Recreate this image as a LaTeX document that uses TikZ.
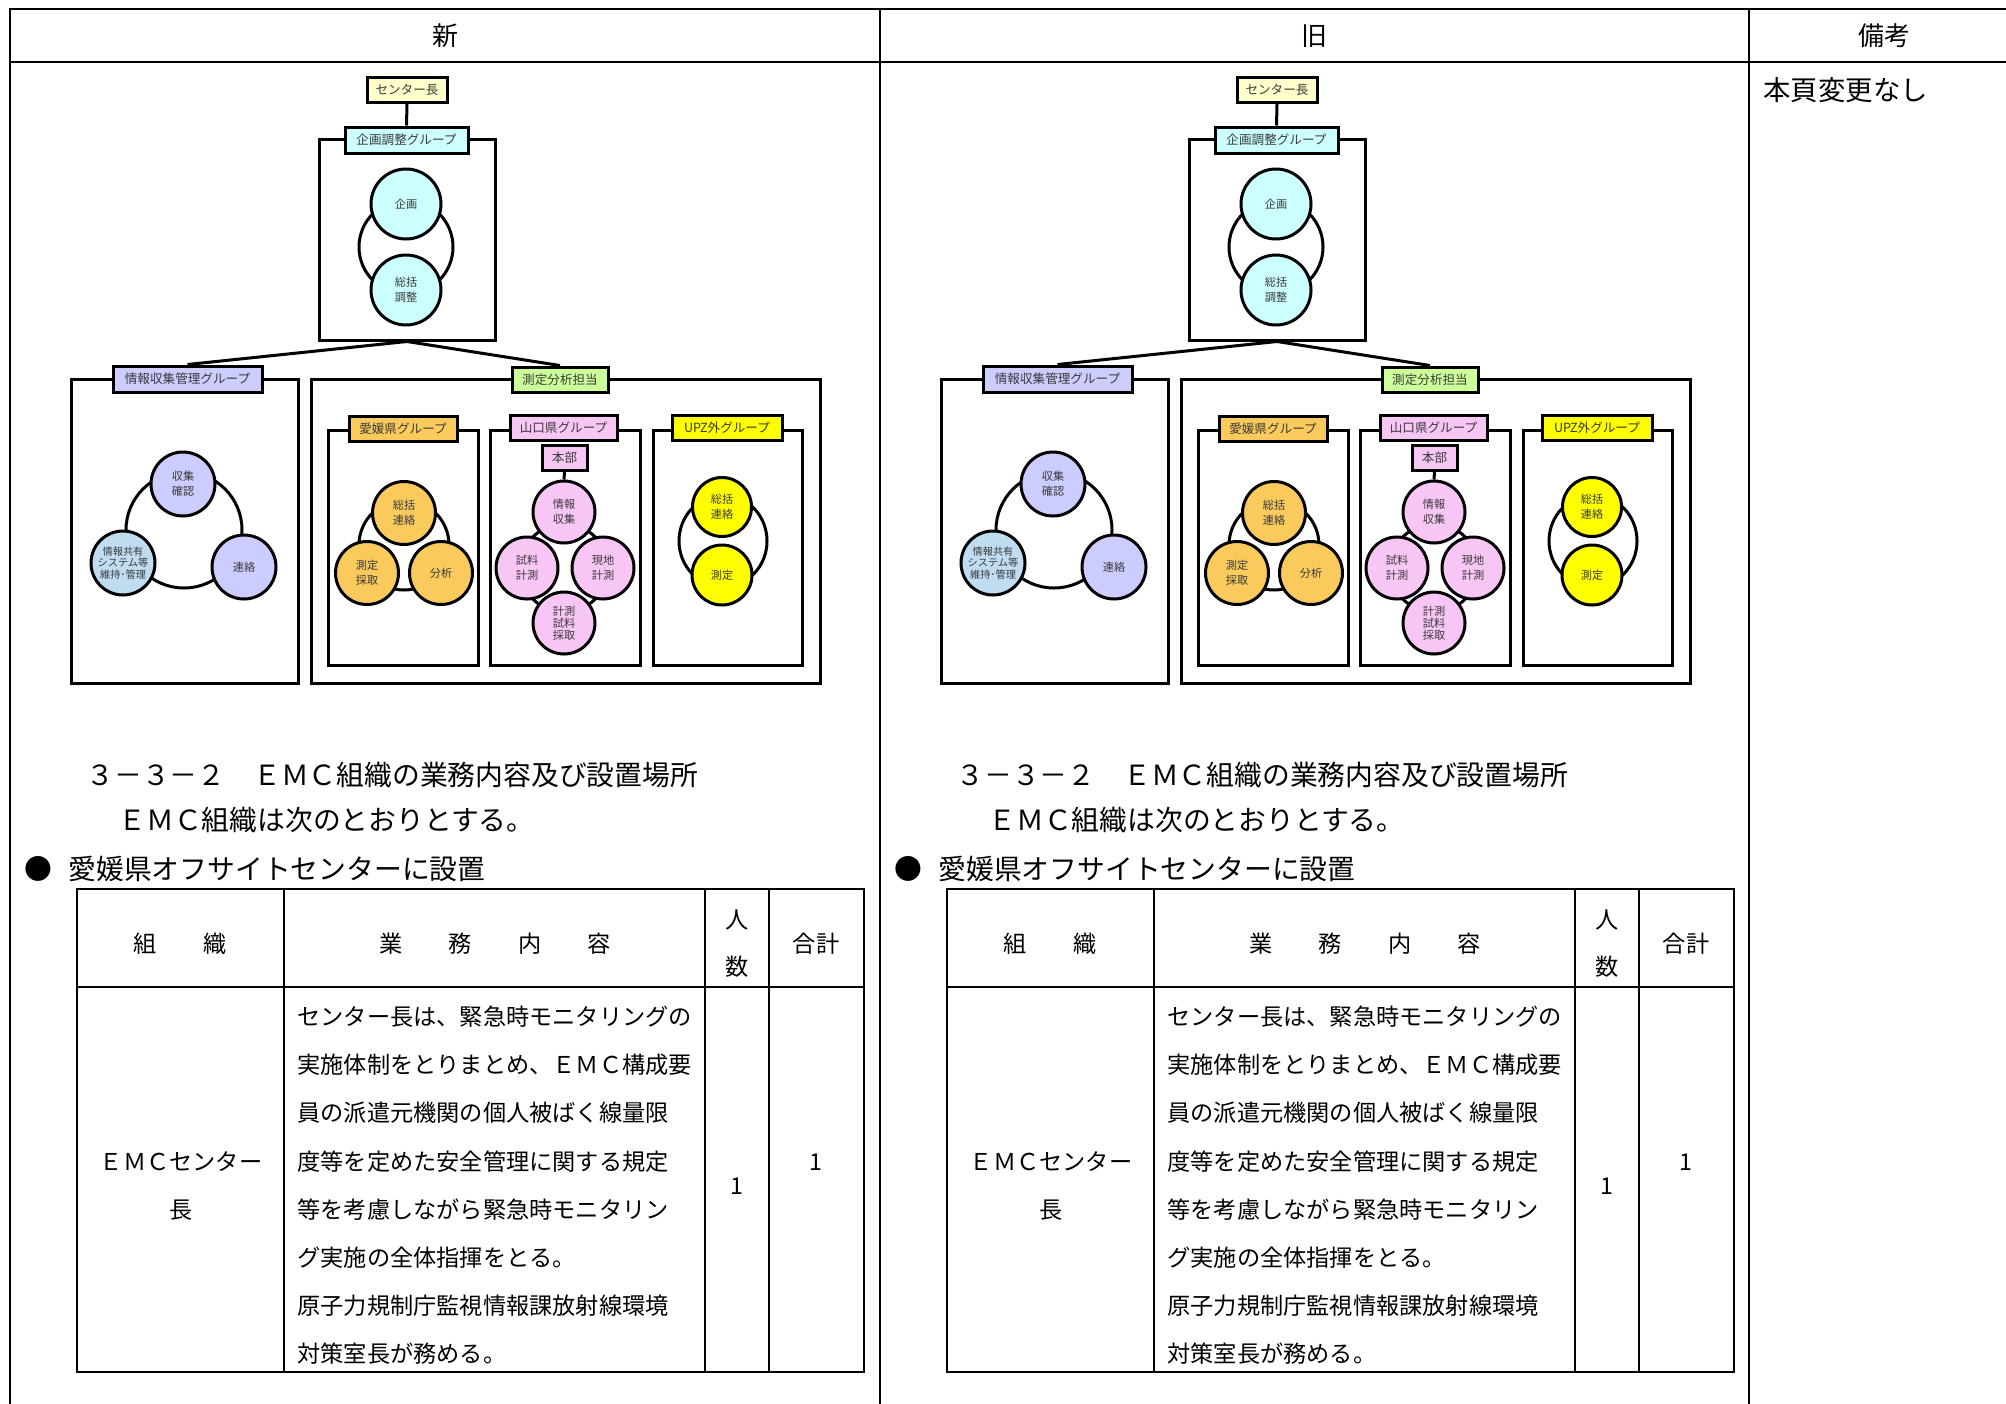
\documentclass[tikz,border=0pt]{standalone}
\usepackage{fontspec}
\setmainfont{Noto Sans CJK JP}
\definecolor{yelL}{HTML}{FFFFCC}
\definecolor{cyanL}{HTML}{CCFFFF}
\definecolor{lavL}{HTML}{CCCCFF}
\definecolor{blueL}{HTML}{BFDCF0}
\definecolor{grnL}{HTML}{CCFF99}
\definecolor{orgL}{HTML}{FACB5C}
\definecolor{pinkL}{HTML}{F8C6F4}
\definecolor{yelB}{HTML}{FFFF00}
\definecolor{txtgray}{HTML}{3A3A3A}
\tikzset{
  cline/.style={line width=1.5pt},
  ring/.style={line width=1.5pt},
  gframe/.style={draw, line width=1.5pt, inner sep=0pt, rectangle},
  glabel/.style={draw, line width=1.5pt, inner sep=0pt, rectangle, minimum height=12.5pt,
    font=\fontsize{6.3}{7}\selectfont, text=txtgray},
  org/.style={circle, draw, line width=1.5pt, inner sep=0pt, align=center,
    font=\fontsize{5.6}{7.5}\selectfont, text=txtgray},
  body/.style={inner sep=0pt, font=\fontsize{13.9}{16}\selectfont},
  tfont/.style={inner sep=0pt, font=\fontsize{11.6}{13}\selectfont},
  hfont/.style={inner sep=0pt, font=\fontsize{13}{15}\selectfont},
  pageline/.style={line width=1pt},
  tblouter/.style={line width=1.3pt},
  tblinner/.style={line width=1pt},
}
\newcommand{\panelcontent}{%
  % ---- frames ----
  \node[gframe, minimum width=88pt, minimum height=100.5pt] (kframe) at (407,239.5) {};
  \node[gframe, minimum width=113.5pt, minimum height=152pt] (jframe) at (184.5,531) {};
  \node[gframe, minimum width=254.5pt, minimum height=152pt] (sframe) at (565.5,531) {};
  \node[gframe, minimum width=75pt, minimum height=117.5pt] (eframe) at (403,547.5) {};
  \node[gframe, minimum width=75pt, minimum height=117.5pt] (yframe) at (565,547.5) {};
  \node[gframe, minimum width=74.5pt, minimum height=117.5pt] (uframe) at (727.5,547.5) {};
  % ---- rings ----
  \draw[ring] (406,247) circle [radius=23.5pt];
  \draw[ring] (184,530) circle [radius=29pt];
  \draw[ring] (404,545) circle [radius=22.5pt];
  \draw[ring] (564,568) circle [radius=22pt];
  \draw[ring] (723,541) ellipse [x radius=22pt, y radius=23pt];
  % ---- circles ----
  \node[org, fill=cyanL, minimum size=35pt] (kc1) at (406,204) {企画};
  \node[org, fill=cyanL, minimum size=35pt] (kc2) at (406,290) {総括\\調整};
  \node[org, fill=lavL, minimum size=32pt] (jc1) at (183,484) {収集\\確認};
  \node[org, fill=blueL, minimum size=32pt, font=\fontsize{5.1}{5.8}\selectfont] (jc2) at (123,563) {情報共有\\システム等\\維持･管理};
  \node[org, fill=lavL, minimum size=32pt] (jc3) at (244,567) {連絡};
  \node[org, fill=orgL, minimum size=31.5pt] (ec1) at (404,513) {総括\\連絡};
  \node[org, fill=orgL, minimum size=31.5pt] (ec2) at (367,573) {測定\\採取};
  \node[org, fill=orgL, minimum size=31.5pt] (ec3) at (441,573) {分析};
  \node[org, fill=pinkL, minimum size=31pt] (yc1) at (564,512) {情報\\収集};
  \node[org, fill=pinkL, minimum size=31pt] (yc2) at (527,568) {試料\\計測};
  \node[org, fill=pinkL, minimum size=31pt] (yc3) at (603,568) {現地\\計測};
  \node[org, fill=pinkL, minimum size=31pt, font=\fontsize{5.6}{6}\selectfont] (yc4) at (564,623) {計測\\試料\\採取};
  \node[org, fill=yelB, minimum size=29.5pt] (uc1) at (722,507) {総括\\連絡};
  \node[org, fill=yelB, minimum size=30pt] (uc2) at (722,575) {測定};
  % ---- labels ----
  \node[glabel, fill=yelL, minimum width=40pt] (chief) at (407,90) {センター長};
  \node[glabel, fill=cyanL, minimum width=61.5pt, minimum height=13pt] (kgl) at (406.5,140) {企画調整グループ};
  \node[glabel, fill=lavL, minimum width=74.5pt, minimum height=13pt] (jgl) at (187.5,379) {情報収集管理グループ};
  \node[glabel, fill=grnL, minimum width=48pt] (sgl) at (560,379.5) {測定分析担当};
  \node[glabel, fill=orgL, minimum width=54pt] (egl) at (403,429) {愛媛県グループ};
  \node[glabel, fill=pinkL, minimum width=53.5pt] (ygl) at (563.5,428) {山口県グループ};
  \node[glabel, fill=yelB, minimum width=55pt] (ugl) at (727,428) {UPZ外グループ};
  \node[glabel, fill=pinkL, minimum width=22.5pt] (honbu) at (564.5,457.5) {本部};
  % ---- connectors ----
  \draw[cline] (chief.south) -- (kgl.north);
  \draw[cline] (kframe.south) -- (jgl.north);
  \draw[cline] (kframe.south) -- (sgl.north);
  \draw[cline] (honbu.south) -- (yc1.north);
  % ---- text ----
  \node[body, anchor=west] (h332) at (86,775) {３－３－２　ＥＭＣ組織の業務内容及び設置場所};
  \node[body, anchor=west] (emc) at (118,820) {ＥＭＣ組織は次のとおりとする。};
  \node[body] (bullet) at (38,869) {●};
  \node[body, anchor=west] (ehime) at (68,869) {愛媛県オフサイトセンターに設置};
  % ---- table ----
  \draw[tblinner] (77,987) -- (864,987);
  \draw[tblinner] (284,889) -- (284,1372);
  \draw[tblinner] (705,889) -- (705,1372);
  \draw[tblinner] (769,889) -- (769,1372);
  \draw[tblouter] (77,889) rectangle (864,1372);
  \node[tfont] (th1) at (180,944) {組　　織};
  \node[tfont] (th2) at (495,944) {業　　務　　内　　容};
  \node[tfont] (th3a) at (737,920) {人};
  \node[tfont] (th3b) at (737,967) {数};
  \node[tfont] (th4) at (816,944) {合計};
  \node[tfont] (org1) at (181,1162) {ＥＭＣセンター};
  \node[tfont] (org2) at (181,1210) {長};
  \node[tfont] (num1) at (737,1186) {1};
  \node[tfont] (sum1) at (816,1162) {1};
  \foreach \t [count=\i] in {センター長は、緊急時モニタリングの,実施体制をとりまとめ、ＥＭＣ構成要,員の派遣元機関の個人被ばく線量限,度等を定めた安全管理に関する規定,等を考慮しながら緊急時モニタリン,グ実施の全体指揮をとる。,原子力規制庁監視情報課放射線環境,対策室長が務める。}
    {\node[tfont, anchor=west] (body\i) at ({297},{1017+48.1*(\i-1)}) {\t};}
}
\begin{document}
\begin{tikzpicture}[x=0.5pt, y=-0.5pt]
  \useasboundingbox[fill=white] (0,0) rectangle (2006,1403);
  % page frame
  \draw[pageline] (10,1410) -- (10,9) -- (2020,9);
  \draw[pageline] (10,62) -- (2020,62);
  \draw[pageline] (880,9) -- (880,1410);
  \draw[pageline] (1749,9) -- (1749,1410);
  \node[hfont] (hnew) at (445,36) {新};
  \node[hfont] (hold) at (1314,36) {旧};
  \node[hfont] (hnote) at (1884,36) {備考};
  \node[hfont, anchor=west, font=\fontsize{13.7}{15}\selectfont] (note) at (1763,90) {本頁変更なし};
  \begin{scope}[name prefix=L-]
    \panelcontent
  \end{scope}
  \begin{scope}[xshift=435pt, name prefix=R-]
    \panelcontent
  \end{scope}
\end{tikzpicture}
\end{document}
